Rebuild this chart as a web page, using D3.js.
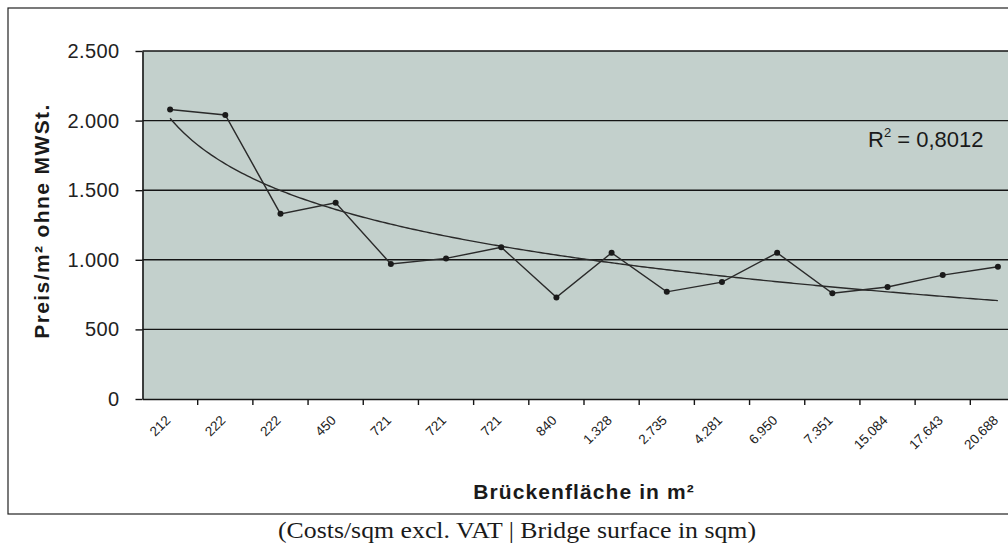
<!DOCTYPE html>
<html>
<head>
<meta charset="utf-8">
<script src="https://cdn.jsdelivr.net/npm/d3@7"></script>
<style>
  html, body { margin: 0; padding: 0; background: #fff; }
  svg { display: block; }
</style>
</head>
<body>
<svg id="chart" width="1008" height="543"></svg>
<script>
// ---- data ----
const categories = ["212", "222", "222", "450", "721", "721", "721", "840", "1.328", "2.735", "4.281", "6.950", "7.351", "15.084", "17.643", "20.688"];
const prices = [2080, 2040, 1330, 1410, 970, 1010, 1090, 730, 1050, 770, 840, 1050, 760, 805, 890, 950];
const yTicks = [0, 500, 1000, 1500, 2000, 2500];
const rSquaredValue = "0,8012";
const yTitle = "Preis/m² ohne MWSt.";
const xTitle = "Brückenfläche in m²";
const caption = "(Costs/sqm excl. VAT | Bridge surface in sqm)";

// ---- layout ----
const W = 1008, H = 543;
const plot = { left: 142.5, top: 51, bottom: 399, right: 1025.5 };
const svg = d3.select("#chart");
const sans = "Arial, 'Liberation Sans', sans-serif";

const idx = categories.map((d, i) => i);
const x = d3.scaleBand().domain(idx).range([plot.left, plot.right]).padding(0);
const y = d3.scaleLinear().domain([0, 2500]).range([plot.bottom, plot.top]);
const cx = i => x(i) + x.bandwidth() / 2;

const de = d3.formatLocale({ decimal: ",", thousands: ".", grouping: [3], currency: ["", ""] });
const fmt = de.format(",");

// outer frame
svg.append("rect").attr("x", 8).attr("y", 8).attr("width", 1020).attr("height", 506)
  .attr("fill", "none").attr("stroke", "#222").attr("stroke-width", 1.2);

// plot background
svg.append("rect").attr("x", plot.left).attr("y", plot.top)
  .attr("width", plot.right - plot.left).attr("height", plot.bottom - plot.top)
  .attr("fill", "#c3d0cc");

// gridlines
svg.append("g").selectAll("line").data(yTicks.filter(v => v > 0)).join("line")
  .attr("x1", plot.left).attr("x2", plot.right)
  .attr("y1", d => y(d)).attr("y2", d => y(d))
  .attr("stroke", "#151515").attr("stroke-width", 1.4);

// y axis
const yAxis = svg.append("g").attr("transform", `translate(${plot.left},0)`)
  .call(d3.axisLeft(y).tickValues(yTicks).tickFormat(fmt).tickSize(7).tickSizeOuter(0).tickPadding(16));
yAxis.select(".domain").attr("stroke", "#151515").attr("stroke-width", 1.6);
yAxis.selectAll(".tick line").attr("stroke", "#151515").attr("stroke-width", 1.4);
yAxis.selectAll(".tick text").attr("font-family", sans)
  .attr("font-size", 20).attr("letter-spacing", 0.4).attr("fill", "#222");

// x axis (labels at band centres)
const xAxis = svg.append("g").attr("transform", `translate(0,${plot.bottom})`)
  .call(d3.axisBottom(x).tickFormat(i => categories[i]).tickSize(0).tickSizeOuter(0));
xAxis.select(".domain").attr("stroke", "#151515").attr("stroke-width", 1.6);
xAxis.selectAll(".tick text")
  .attr("font-family", sans).attr("font-size", 13.5).attr("fill", "#222")
  .attr("text-anchor", "end").attr("dy", 0)
  .attr("transform", "translate(-1,20) rotate(-45)");

// x tick marks at band boundaries
svg.append("g").selectAll("line").data(idx.slice(1)).join("line")
  .attr("x1", d => x(d)).attr("x2", d => x(d))
  .attr("y1", plot.bottom).attr("y2", plot.bottom + 6)
  .attr("stroke", "#151515").attr("stroke-width", 1.4);

// logarithmic trendline fitted to the data (least squares on ln(index))
const lx = prices.map((d, i) => Math.log(i + 1));
const mx = d3.mean(lx), my = d3.mean(prices);
const b = d3.sum(lx.map((v, i) => (v - mx) * (prices[i] - my))) / d3.sum(lx.map(v => (v - mx) ** 2));
const a = my - b * mx;
const trendPts = d3.range(0, 15.001, 0.05).map(t => [plot.left + x.bandwidth() * (t + 0.5), y(a + b * Math.log(t + 1))]);
svg.append("path").attr("d", d3.line()(trendPts))
  .attr("fill", "none").attr("stroke", "#2a2a2a").attr("stroke-width", 1.4);

// data line
svg.append("path")
  .attr("d", d3.line().x((d, i) => cx(i)).y(d => y(d))(prices))
  .attr("fill", "none").attr("stroke", "#2a2a2a").attr("stroke-width", 1.4);
svg.append("g").selectAll("circle").data(prices).join("circle")
  .attr("cx", (d, i) => cx(i)).attr("cy", d => y(d)).attr("r", 3)
  .attr("fill", "#1a1a1a");

// R² label
const rt = svg.append("text").attr("x", 868).attr("y", 147)
  .attr("font-family", sans).attr("font-size", 22).attr("fill", "#1a1a1a");
rt.append("tspan").text("R");
rt.append("tspan").attr("font-size", 13).attr("dy", -10).text("2");
rt.append("tspan").attr("dy", 10).text(" = " + rSquaredValue);

// axis titles
svg.append("text").attr("transform", "translate(49,221) rotate(-90)")
  .attr("text-anchor", "middle").attr("font-family", sans)
  .attr("font-weight", "bold").attr("font-size", 21).attr("letter-spacing", 1.4).attr("fill", "#1a1a1a")
  .text(yTitle);
svg.append("text").attr("x", 584).attr("y", 499)
  .attr("text-anchor", "middle").attr("font-family", sans)
  .attr("font-weight", "bold").attr("font-size", 21).attr("letter-spacing", 1.1).attr("fill", "#1a1a1a")
  .text(xTitle);

// caption
svg.append("text").attr("x", 517).attr("y", 538)
  .attr("text-anchor", "middle").attr("font-family", "'Liberation Serif', 'Times New Roman', serif")
  .attr("font-size", 24).attr("fill", "#1a1a1a")
  .attr("textLength", 478).attr("lengthAdjust", "spacingAndGlyphs")
  .text(caption);
</script>
</body>
</html>
